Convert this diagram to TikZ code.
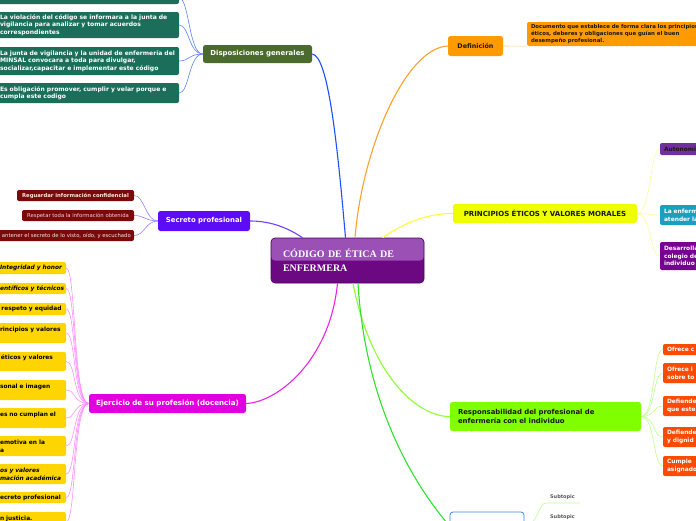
\documentclass[tikz,border=0pt]{standalone}
\usepackage{fontspec}
\setmainfont{DejaVu Sans}
\newfontfamily\serifbf{Liberation Serif}
\definecolor{cTop}{HTML}{9A50B4}
\definecolor{cBot}{HTML}{6C0882}
\definecolor{cEdge}{HTML}{4A0060}
\definecolor{dispC}{HTML}{4B6A2E}
\definecolor{tealC}{HTML}{1B6E5A}
\definecolor{secC}{HTML}{5E0CF5}
\definecolor{redC}{HTML}{7A0A0A}
\definecolor{ejeC}{HTML}{E000E0}
\definecolor{yelC}{HTML}{FFD500}
\definecolor{defC}{HTML}{FF9A00}
\definecolor{priC}{HTML}{F0FF00}
\definecolor{purA}{HTML}{7030A0}
\definecolor{tealB}{HTML}{1C9EC0}
\definecolor{purB}{HTML}{780090}
\definecolor{resC}{HTML}{80FF00}
\definecolor{oraR}{HTML}{FF4A00}
\definecolor{lBlue}{HTML}{1E4FFF}
\definecolor{sBlue}{HTML}{5A86F2}
\definecolor{lPur}{HTML}{7040FF}
\definecolor{sPur}{HTML}{9A80FF}
\definecolor{lMag}{HTML}{F020F0}
\definecolor{sMag}{HTML}{FF90FF}
\definecolor{lOra}{HTML}{FFA030}
\definecolor{sOra}{HTML}{FFD090}
\definecolor{lYel}{HTML}{FFFF30}
\definecolor{sYel}{HTML}{FFFF99}
\definecolor{lGre}{HTML}{90FF30}
\definecolor{sGre}{HTML}{C0FF90}
\definecolor{dGre}{HTML}{30E030}
\definecolor{botEdge}{HTML}{3C8CE8}
\tikzset{
  topic/.style={rounded corners=2.5pt, inner sep=0pt, align=center,
    font=\fontsize{6.9}{8.4}\selectfont\bfseries},
  leaf/.style={rounded corners=2pt, inner xsep=4pt, inner ysep=0pt, align=left,
    font=\fontsize{6.05}{7.5}\selectfont\bfseries},
  rleaf/.style={leaf, font=\fontsize{5.9}{7.6}\selectfont\bfseries,
    minimum width=60pt, text width=52pt},
  yleaf/.style={leaf, fill=yelC, text=black, font=\fontsize{5.9}{8}\selectfont\bfseries,
    inner xsep=2pt, minimum width=68pt, text width=64pt},
  redleaf/.style={rounded corners=2pt, inner sep=0pt, fill=redC, minimum height=11pt},
  mainline/.style={line width=1.1pt},
  subline/.style={line width=0.6pt},
}
\begin{document}
\begin{tikzpicture}[x=1pt,y=-1pt]
\useasboundingbox (0,0) rectangle (696,520);
\clip (0,0) rectangle (696,520);
\fill[white] (0,0) rectangle (696,520);

% ---------- central node
\node[draw=cEdge, line width=0.6pt, fill=cBot, rounded corners=4pt,
  minimum width=153pt, minimum height=45pt, inner xsep=12pt, text width=129pt,
  align=left, text=white, font=\serifbf\bfseries\fontsize{10}{14}\selectfont,
  path picture={\fill[cTop] (path picture bounding box.north west) rectangle (path picture bounding box.east);}]
  (c) at (347.5,260.5) {CÓDIGO DE ÉTICA DE\\ENFERMERA};

% ---------- Disposiciones generales
\node[topic, fill=dispC, text=white, minimum width=109pt, minimum height=18pt] (disp) at (257.5,54) {Disposiciones generales};
\node[leaf, fill=tealC, text=white, minimum width=183pt, minimum height=24pt, text width=175pt] (d0) at (87.5,-8) {};
\node[leaf, fill=tealC, text=white, minimum width=183pt, minimum height=26pt, text width=175pt] (d1) at (87.5,25) {La violación  del código se informara a la junta de\\vigilancia para analizar y tomar acuerdos\\correspondientes};
\node[leaf, fill=tealC, text=white, minimum width=183pt, minimum height=28pt, text width=175pt] (d2) at (87.5,61) {La junta de vigilancia y la unidad de enfermería del\\MINSAL convocara a toda para divulgar,\\socializar,capacitar e implementar este código};
\node[leaf, fill=tealC, text=white, minimum width=183pt, minimum height=20pt, text width=175pt] (d3) at (87.5,93) {Es obligación promover, cumplir y velar porque e\\cumpla este codigo};
\foreach \n in {d1,d2,d3}{
  \draw[subline, sBlue] (disp.west) .. controls +(-14,0) and +(10,0) .. (\n.east);
}
\draw[subline, sBlue] (disp.west) .. controls +(-14,0) and +(10,0) .. ([yshift=6pt]d0.south east);
\draw[mainline, lBlue] (disp.east) .. controls (328,56) and (337,140) .. ([xshift=-2pt]c.north);

% ---------- Secreto profesional
\node[topic, fill=secC, text=white, minimum width=92pt, minimum height=20pt] (sec) at (204,221) {Secreto profesional};
\node[redleaf, text={red!10}, font=\fontsize{5.3}{6}\selectfont\bfseries, minimum width=117pt] (s1) at (75.5,195.5) {Reguardar información confidencial};
\node[redleaf, text={red!20}, font=\fontsize{5.3}{6}\selectfont, minimum width=112pt] (s2) at (78,215.5) {Respetar toda la información obtenida};
\node[redleaf, minimum width=180pt] (s3) at (44,235.5) {};
\node[anchor=east, inner sep=0pt, text={red!10}, font=\fontsize{5.3}{6}\selectfont] (s3t) at (131,235.5) {antener el secreto  de lo visto, oído, y escuchado};
\foreach \n in {s1,s2,s3}{
  \draw[subline, sPur] (sec.west) .. controls +(-12,0) and +(10,0) .. (\n.east);
}
\draw[mainline, lPur] (sec.east) .. controls (268,221) and (285,226) .. ([xshift=-45pt]c.north);

% ---------- Ejercicio de su profesión
\node[topic, fill=ejeC, text=white, font=\fontsize{7.1}{8.4}\selectfont\bfseries, minimum width=157pt, minimum height=19pt] (eje) at (167.5,403.5) {Ejercicio de su profesión (docencia)};
\node[yleaf, minimum height=12pt] (y1) at (32,268) {\itshape\mbox{Integridad y honor}};
\node[yleaf, minimum height=11pt] (y2) at (32,288.5) {\itshape\mbox{entíficos y técnicos}};
\node[yleaf, minimum height=12pt] (y3) at (32,309) {\mbox{\hspace*{1.5pt}respeto y equidad}};
\node[yleaf, minimum height=20pt] (y4) at (32,333) {\mbox{rincipios y valores}\\\mbox{}};
\node[yleaf, minimum height=19pt] (y5) at (32,361.5) {\mbox{\hspace*{1pt}éticos y valores}\\\mbox{}};
\node[yleaf, minimum height=20pt] (y6) at (32,390) {\mbox{sonal e imagen}\\\mbox{}};
\node[yleaf, minimum height=20pt] (y7) at (32,418) {\mbox{es no cumplan el}\\\mbox{}};
\node[yleaf, minimum height=20pt] (y8) at (32,446) {\mbox{emotiva en la}\\a};
\node[yleaf, minimum height=20pt] (y9) at (32,474) {\itshape\mbox{os y valores}\\\mbox{mación académica}};
\node[yleaf, minimum height=11pt] (y10) at (32,497.5) {\mbox{ecreto profesional}};
\node[yleaf, minimum height=20pt] (y11) at (32,522) {\mbox{n justicia.}\\\mbox{}};
\foreach \n in {y1,y2,y3,y4,y5,y6,y7,y8,y9,y10,y11}{
  \draw[subline, sMag] (eje.west) .. controls +(-16,0) and +(10,0) .. (\n.east);
}
\draw[mainline, lMag] ([xshift=-10pt]c.south) .. controls (330,360) and (278,402) .. (eje.east);

% ---------- Definición
\node[topic, fill=defC, text=black!90, font=\fontsize{6.4}{8}\selectfont\bfseries, minimum width=55pt, minimum height=20pt] (def) at (475.5,46) {Definición};
\node[leaf, fill=defC, text=black!90, font=\fontsize{5.4}{7.3}\selectfont\bfseries, minimum width=193pt, minimum height=24pt, text width=185pt] (defc) at (623.5,34) {\mbox{Documento que establece de forma clara los principios}\\éticos, deberes y obligaciones que guían el buen\\desempeño profesional.};
\draw[subline, sOra] (def.east) -- (defc.south west);
\draw[mainline, lOra] ([xshift=7.5pt]c.north) .. controls (362,150) and (405,48) .. (def.west);

% ---------- Principios
\node[topic, fill=priC, text=black!90, font=\fontsize{7}{8.4}\selectfont\bfseries, minimum width=184pt, minimum height=19pt] (pri) at (545,213.5) {PRINCIPIOS ÉTICOS Y VALORES MORALES};
\node[rleaf, fill=purA, text=black!90, minimum height=12pt] (p1) at (690,149) {Autonomi};
\node[rleaf, fill=tealB, text=white, minimum height=20pt] (p2) at (690,215) {La enferm\\atender la};
\node[rleaf, fill=purB, text=white, minimum height=28pt] (p3) at (690,256) {Desarrolla\\colegio de\\individuo};
\foreach \n in {p1,p2,p3}{
  \draw[subline, sYel] (pri.east) .. controls +(14,0) and +(-10,0) .. (\n.west);
}
\draw[mainline, lYel] ([xshift=35pt]c.north) .. controls (405,222) and (430,213) .. (pri.west);

% ---------- Responsabilidad
\node[topic, fill=resC, text=black!90, align=left, text width=175pt, minimum width=191pt, minimum height=29pt, font=\fontsize{6.9}{8.8}\selectfont\bfseries] (res) at (545.5,416.5) {Responsabilidad del profesional de\\enfermería con el individuo};
\node[rleaf, fill=oraR, text=white, minimum height=11pt] (r1) at (693,349.5) {Ofrece c};
\node[rleaf, fill=oraR, text=white, minimum height=20pt] (r2) at (693,373) {Ofrece l\\sobre to};
\node[rleaf, fill=oraR, text=white, minimum height=20pt] (r3) at (693,406) {Defiende\\que este};
\node[rleaf, fill=oraR, text=white, minimum height=20pt] (r4) at (693,437) {Defiende\\y dignid};
\node[rleaf, fill=oraR, text=white, minimum height=20pt] (r5) at (693,466) {Cumple\\asignado};
\foreach \n in {r1,r2,r3,r4,r5}{
  \draw[subline, sGre] (res.east) .. controls +(14,0) and +(-10,0) .. (\n.west);
}
\draw[mainline, lGre] ([xshift=5.5pt]c.south) .. controls (372,380) and (420,417) .. (res.west);

% ---------- bottom topic with subtopics
\node[draw=botEdge, line width=0.8pt, fill=white, rounded corners=3pt, minimum width=74pt, minimum height=28pt] (bot) at (487,526) {};
\draw[mainline, dGre] ([xshift=10.5pt]c.south) .. controls (365,400) and (410,480) .. (bot.west);
\node[font=\fontsize{5}{6}\selectfont\bfseries, text=black!65, inner sep=0pt] (st1) at (562.5,497) {Subtopic};
\node[font=\fontsize{5}{6}\selectfont\bfseries, text=black!65, inner sep=0pt] (st2) at (562.5,517) {Subtopic};
\coordinate (u1a) at (546,503);
\coordinate (u1b) at (580,503);
\coordinate (u2a) at (546,523);
\coordinate (u2b) at (580,523);
\draw[subline, sGre] (bot.east) .. controls (538,526) and (538,503) .. (u1a) -- (u1b);
\draw[subline, sGre] (bot.east) .. controls (538,526) and (538,523) .. (u2a) -- (u2b);
\end{tikzpicture}
\end{document}
